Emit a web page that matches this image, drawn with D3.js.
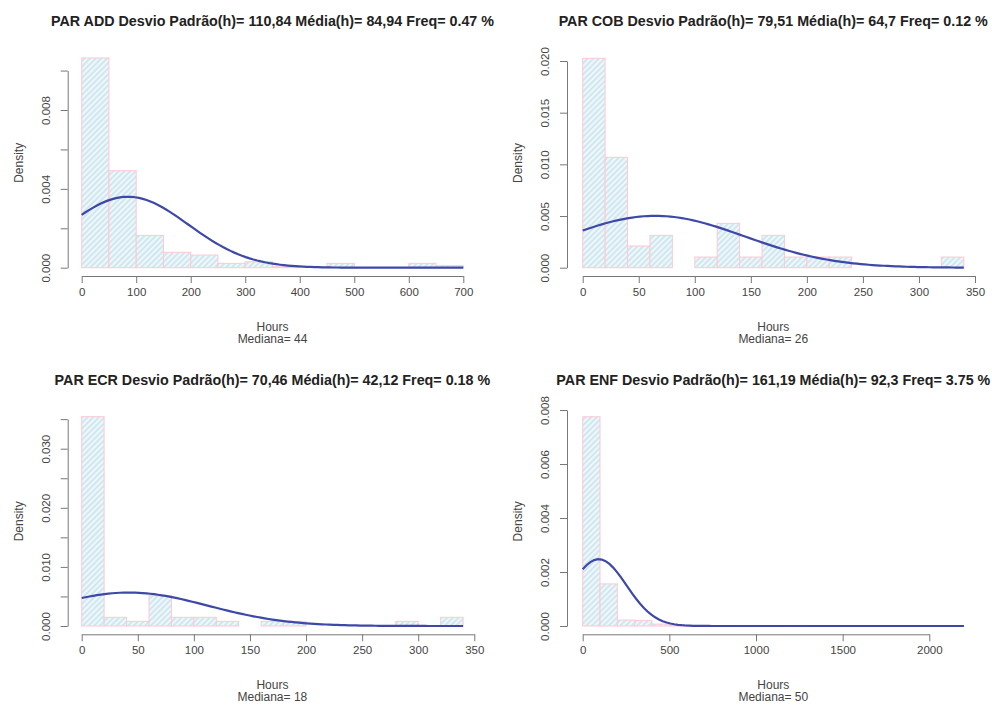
<!DOCTYPE html>
<html>
<head>
<meta charset="utf-8">
<script src="https://cdn.jsdelivr.net/npm/d3@7"></script>
<style>
  body { margin: 0; background: #fff; }
  svg { font-family: "Liberation Sans", Arial, Helvetica, sans-serif; }
</style>
</head>
<body>
<div id="vis"></div>
<script>
// data
var panelCodes = ["ADD", "COB", "ECR", "ENF"];
var sdHours = [110.84, 79.51, 70.46, 161.19];
var meanHours = [84.94, 64.7, 42.12, 92.3];
var sdText = ["110,84", "79,51", "70,46", "161,19"];
var meanText = ["84,94", "64,7", "42,12", "92,3"];
var freqText = ["0.47", "0.12", "0.18", "3.75"];
var medianHours = [44, 26, 18, 50];
var binWidth = [50, 20, 20, 100];

var addDensity = [0.01064, 0.00492, 0.00164, 0.00078, 0.00064, 0.00022, 0.0003, 0.00005, 0, 0.00022, 0, 0, 0.00022, 0.0001];
var cobDensity = [0.02026, 0.01068, 0.0021, 0.00313, 0, 0.00103, 0.00429, 0.00103, 0.00313, 0.00103, 0.00103, 0.00103, 0, 0, 0, 0, 0.00103];
var ecrDensity = [0.03542, 0.00147, 0.00079, 0.00513, 0.00147, 0.00147, 0.00079, 0, 0.00079, 0.00079, 0, 0, 0, 0, 0.00079, 0, 0.00147];
var enfDensity = [0.00775, 0.00156, 0.00022, 0.0002, 0.00007, 0.00003, 0.00002, 0, 0, 0.00002, 0, 0, 0.00002, 0, 0, 0, 0, 0, 0, 0, 0, 0];
var densities = [addDensity, cobDensity, ecrDensity, enfDensity];

var xTicks = [
    [0, 100, 200, 300, 400, 500, 600, 700],
    [0, 50, 100, 150, 200, 250, 300, 350],
    [0, 50, 100, 150, 200, 250, 300, 350],
    [0, 500, 1000, 1500, 2000]
];
var yTicks = [
    [0, 0.002, 0.004, 0.006, 0.008, 0.010],
    [0, 0.005, 0.010, 0.015, 0.020],
    [0, 0.005, 0.010, 0.015, 0.020, 0.025, 0.030, 0.035],
    [0, 0.002, 0.004, 0.006, 0.008]
];
var yTickLabels = [
    ["0.000", "", "0.004", "", "0.008", ""],
    ["0.000", "0.005", "0.010", "0.015", "0.020"],
    ["0.000", "", "0.010", "", "0.020", "", "0.030", ""],
    ["0.000", "0.002", "0.004", "0.006", "0.008"]
];

// pixel layout of each plot (x range for hours, y range for density)
var layout = [
    { x0: 81.7, x1: 463.3, xd: 700, y0: 267.7, y1: 110, yd: 0.008, axisX: 67.7 },
    { x0: 582.7, x1: 975, xd: 350, y0: 267.7, y1: 61, yd: 0.020, axisX: 567 },
    { x0: 81.7, x1: 474.3, xd: 350, y0: 626, y1: 448.7, yd: 0.030, axisX: 67.7 },
    { x0: 582.7, x1: 929.3, xd: 2000, y0: 626, y1: 410, yd: 0.008, axisX: 567 }
];
var titleY = [26, 26, 385, 385];

var width = 992, height = 705;

var svg = d3.select("#vis")
    .append("svg")
    .attr("width", width)
    .attr("height", height);

// hatch pattern for the bars
var defs = svg.append("defs");
var pat = defs.append("pattern")
    .attr("id", "hatch")
    .attr("patternUnits", "userSpaceOnUse")
    .attr("width", 4)
    .attr("height", 4)
    .attr("patternTransform", "rotate(45)");
pat.append("rect")
    .attr("width", 4)
    .attr("height", 4)
    .attr("fill", "#eef7fa");
pat.append("line")
    .attr("x1", 1).attr("y1", 0)
    .attr("x2", 1).attr("y2", 4)
    .attr("stroke", "#c9e4ed")
    .attr("stroke-width", 1.6);

function dnorm(x, m, s) {
    return Math.exp(-0.5 * Math.pow((x - m) / s, 2)) / (s * Math.sqrt(2 * Math.PI));
}

densities.forEach(function (dens, i) {
    var L = layout[i];
    var bw = binWidth[i];
    var xMax = dens.length * bw;
    var yMax = d3.max(dens);

    var x = d3.scaleLinear().domain([0, L.xd]).range([L.x0, L.x1]);
    var y = d3.scaleLinear().domain([0, L.yd]).range([L.y0, L.y1]);

    var g = svg.append("g");

    // bars
    g.selectAll(".bar")
        .data(dens)
        .enter()
        .append("rect")
        .attr("class", "bar")
        .attr("x", function (d, j) { return x(j * bw); })
        .attr("width", function (d, j) { return x((j + 1) * bw) - x(j * bw); })
        .attr("y", function (d) { return y(d); })
        .attr("height", function (d) { return y(0) - y(d); })
        .attr("fill", "url(#hatch)")
        .attr("stroke", "#ffc8d2")
        .attr("stroke-width", 1);

    // normal curve from mean and sd in the title
    var pts = d3.range(0, 101).map(function (k) {
        var h = xMax * k / 100;
        return [h, dnorm(h, meanHours[i], sdHours[i])];
    });
    g.append("path")
        .datum(pts)
        .attr("fill", "none")
        .attr("stroke", "#3d48a8")
        .attr("stroke-width", 2.2)
        .attr("d", d3.line()
            .x(function (d) { return x(d[0]); })
            .y(function (d) { return y(d[1]); }));

    // x axis
    var xt = xTicks[i];
    var xa = x.copy().domain([xt[0], xt[xt.length - 1]])
        .range([x(xt[0]), x(xt[xt.length - 1])]);
    var xAxisY = L.y0 + 8.3;
    var gx = g.append("g")
        .attr("transform", "translate(0," + xAxisY + ")")
        .call(d3.axisBottom(xa).tickValues(xt).tickFormat(d3.format("d"))
            .tickSizeInner(7).tickSizeOuter(0).tickPadding(5));
    gx.select(".domain").attr("stroke", "#777");
    gx.selectAll(".tick line").attr("stroke", "#777");
    gx.selectAll(".tick text")
        .attr("fill", "#444")
        .style("font-size", "11.5px");

    // y axis
    var yt = yTicks[i];
    var ya = y.copy().domain([yt[0], yt[yt.length - 1]])
        .range([y(yt[0]), y(yt[yt.length - 1])]);
    var gy = g.append("g")
        .attr("transform", "translate(" + L.axisX + ",0)")
        .call(d3.axisLeft(ya).tickValues(yt)
            .tickFormat(function (d, k) { return yTickLabels[i][k]; })
            .tickSizeInner(7).tickSizeOuter(0));
    gy.select(".domain").attr("stroke", "#777");
    gy.selectAll(".tick line").attr("stroke", "#777");
    gy.selectAll(".tick text")
        .attr("transform", "rotate(-90)")
        .attr("x", 0)
        .attr("y", -18)
        .attr("dy", null)
        .attr("text-anchor", "middle")
        .attr("fill", "#444")
        .style("font-size", "11.5px");

    // title
    var mid = x(xMax / 2);
    g.append("text")
        .attr("x", mid)
        .attr("y", titleY[i])
        .attr("text-anchor", "middle")
        .style("font-size", "14.3px")
        .style("font-weight", "bold")
        .attr("fill", "#222")
        .text("PAR " + panelCodes[i] + " Desvio Padrão(h)= " + sdText[i] +
            " Média(h)= " + meanText[i] + " Freq= " + freqText[i] + " %");

    // axis labels
    g.append("text")
        .attr("x", mid)
        .attr("y", xAxisY + 54.5)
        .attr("text-anchor", "middle")
        .style("font-size", "12px")
        .attr("fill", "#444")
        .text("Hours");
    g.append("text")
        .attr("x", mid)
        .attr("y", xAxisY + 67)
        .attr("text-anchor", "middle")
        .style("font-size", "12px")
        .attr("fill", "#444")
        .text("Mediana= " + medianHours[i]);

    g.append("text")
        .attr("transform", "translate(" + (L.axisX - 45) + "," + y(yMax / 2) + ") rotate(-90)")
        .attr("text-anchor", "middle")
        .style("font-size", "12px")
        .attr("fill", "#444")
        .text("Density");
});
</script>
</body>
</html>
